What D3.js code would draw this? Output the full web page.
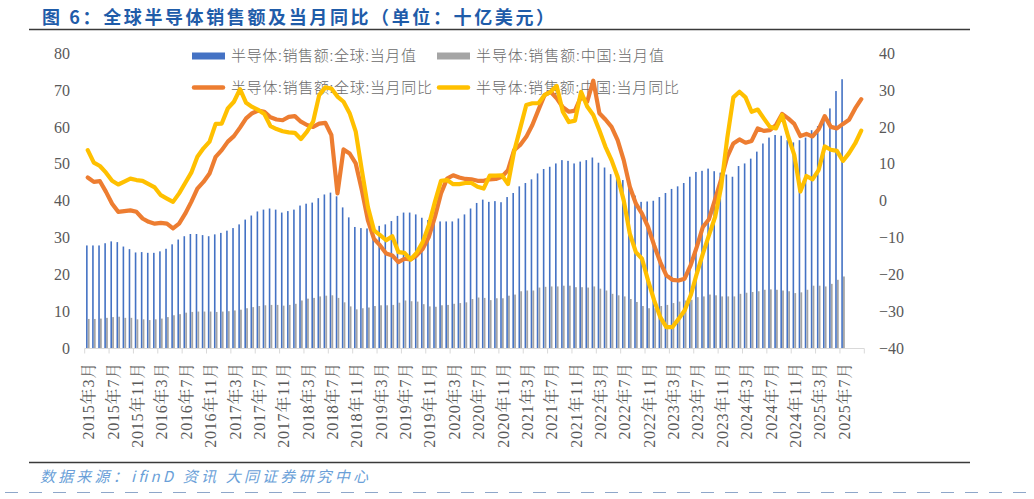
<!DOCTYPE html>
<html>
<head>
<meta charset="utf-8">
<script src="https://cdn.jsdelivr.net/npm/d3@7"></script>
<style>
  html, body { margin: 0; padding: 0; background: #fff; }
  svg { display: block; }
</style>
</head>
<body>
<svg id="chart" width="1034" height="499"></svg>
<script>
(function () {
  "use strict";

  // monthly categories 2015-03 .. 2025-10 (last three have no bars)
  const months = [];
  for (let i = 0; i < 128; i++) {
    const t = 2 + i;
    months.push(`${2015 + Math.floor(t / 12)}年${(t % 12) + 1}月`);
  }
  const labelMonths = months.filter((d, i) => i % 4 === 0);

  const leftTicks = [0, 10, 20, 30, 40, 50, 60, 70, 80];
  const rightTicks = [-40, -30, -20, -10, 0, 10, 20, 30, 40];

  // 半导体:销售额:全球:当月值 (十亿美元)
  const globalSales = [
    27.9, 27.9, 27.9, 28.5, 29.0, 28.8, 27.6, 26.9, 26.0, 26.1,
    25.9, 25.9, 26.3, 27.0, 28.2, 29.5, 30.4, 31.0, 31.0, 30.7,
    30.4, 30.9, 31.3, 31.9, 32.6, 33.6, 34.9, 36.0, 37.1, 37.6,
    37.9, 37.6, 36.8, 37.2, 37.6, 38.7, 39.2, 39.5, 40.7, 41.7,
    42.2, 41.2, 38.2, 35.5, 32.9, 32.6, 32.5, 32.7, 33.2, 33.6,
    34.5, 35.9, 36.8, 36.8, 36.3, 35.4, 34.8, 34.4, 34.4, 34.4,
    34.4, 35.2, 36.3, 37.9, 39.4, 40.3, 39.7, 39.9, 39.6, 41.0,
    42.1, 43.9, 44.8, 45.8, 47.4, 48.6, 49.2, 50.1, 51.0, 50.8,
    50.1, 50.6, 51.0, 51.7, 50.3, 49.0, 47.2, 46.9, 45.6, 43.6,
    41.4, 39.7, 39.8, 40.0, 41.0, 42.1, 43.2, 43.9, 44.8, 46.5,
    47.8, 48.1, 48.7, 48.0, 47.6, 47.1, 46.5, 49.4, 50.1, 51.4,
    53.3, 55.5, 57.1, 57.8, 57.6, 56.4, 55.8, 56.4, 57.1, 59.1,
    60.2, 62.7, 65.0, 69.7, 72.9, null, null, null
  ];

  // 半导体:销售额:中国:当月值
  const chinaSales = [
    8.0, 8.0, 8.1, 8.3, 8.5, 8.6, 8.3, 8.3, 7.9, 7.9,
    7.7, 7.9, 8.1, 8.5, 9.0, 9.3, 9.7, 9.9, 10.0, 10.0,
    10.0, 9.9, 10.0, 10.1, 10.3, 10.5, 10.9, 11.2, 11.5, 11.7,
    11.8, 11.8, 11.6, 11.8, 12.1, 13.0, 13.5, 13.7, 14.1, 14.3,
    14.4, 13.7, 12.5, 11.4, 10.6, 10.9, 11.1, 11.5, 11.7, 11.7,
    11.8, 12.4, 13.0, 12.8, 12.7, 12.0, 11.4, 11.3, 11.7, 11.8,
    12.1, 12.3, 12.5, 13.4, 13.8, 13.7, 13.1, 13.6, 13.6, 14.3,
    14.6, 15.5, 15.7, 15.7, 16.5, 16.7, 16.8, 16.8, 17.0, 17.0,
    16.6, 16.6, 16.5, 16.8, 16.2, 15.7, 14.8, 14.4, 14.1, 13.4,
    12.6, 11.5, 10.9, 10.9, 11.5, 11.8, 12.3, 12.7, 13.0, 13.2,
    13.9, 14.1, 14.6, 14.4, 14.1, 14.1, 14.1, 14.8, 15.1, 15.3,
    15.5, 15.9, 16.0, 15.9, 15.7, 15.5, 15.0, 15.2, 15.9, 17.0,
    17.0, 16.8, 17.5, 18.6, 19.5, null, null, null
  ];

  // 半导体:销售额:全球:当月同比 (%)
  const globalYoY = [
    6.3, 5.1, 5.3, 2.4, -0.8, -3.0, -2.8, -2.6, -3.0, -4.8,
    -5.7, -6.2, -6.0, -6.2, -7.5, -6.2, -3.5, -0.3, 3.3, 5.1,
    7.4, 11.9, 13.7, 16.0, 17.5, 19.8, 22.3, 23.7, 24.4, 24.1,
    22.6, 22.0, 21.8, 22.7, 22.9, 21.4, 20.5, 20.0, 20.9, 21.1,
    17.8, 2.0, 13.9, 12.8, 10.1, 2.9, -5.3, -10.3, -12.1, -14.3,
    -14.8, -16.6, -15.7, -15.9, -14.8, -13.0, -9.8, -4.4, 2.0, 6.0,
    6.9, 6.3, 5.9, 5.8, 5.4, 5.4, 5.8, 5.9, 6.5, 8.3,
    13.7, 15.1, 17.3, 20.5, 24.6, 28.6, 29.5, 27.7, 25.3, 24.1,
    24.4, 28.2, 26.8, 32.5, 23.7, 22.0, 20.0, 16.4, 11.0, 3.8,
    -0.8, -3.5, -7.1, -12.1, -16.6, -20.2, -21.4, -21.6, -21.1, -17.4,
    -12.5, -7.1, -5.0, 0.4, 5.8, 11.9, 15.5, 16.6, 15.7, 16.2,
    19.6, 18.9, 19.1, 20.5, 23.5, 22.3, 20.8, 17.5, 18.1, 17.4,
    19.3, 22.9, 20.0, 19.6, 20.8, 21.9, 25.0, 27.5
  ];

  // 半导体:销售额:中国:当月同比 (%)
  const chinaYoY = [
    13.7, 10.3, 9.4, 7.6, 5.4, 4.4, 5.2, 6.0, 5.6, 5.4,
    4.5, 3.6, 1.5, 0.6, -0.3, 2.0, 4.8, 7.6, 11.9, 14.2,
    16.0, 20.8, 20.9, 25.0, 26.8, 30.2, 26.5, 25.4, 24.6, 23.5,
    20.2, 19.4, 18.8, 18.5, 18.4, 16.7, 18.7, 21.4, 28.6, 30.7,
    30.4, 28.2, 26.8, 23.7, 18.7, 8.3, -1.7, -8.0, -9.3, -10.7,
    -9.6, -13.9, -14.1, -15.9, -14.1, -11.2, -6.6, -0.3, 5.4, 5.6,
    4.5, 4.5, 4.8, 4.8, 3.8, 3.3, 6.8, 6.8, 6.9, 4.5,
    13.3, 19.6, 25.9, 26.4, 26.4, 28.6, 29.5, 31.1, 24.1, 21.3,
    21.7, 29.5, 25.5, 23.2, 19.1, 14.6, 11.0, 6.5, 0.1, -8.9,
    -13.9, -15.7, -21.6, -27.0, -31.5, -34.2, -34.2, -32.0, -29.7, -25.6,
    -19.7, -14.3, -9.3, -4.4, 3.8, 17.0, 28.0, 29.5, 28.0, 24.1,
    24.7, 22.3, 20.0, 19.6, 23.2, 17.4, 12.4, 2.5, 6.7, 5.8,
    8.3, 14.7, 13.8, 13.5, 10.8, 12.9, 15.5, 19.0
  ];

  const seriesNames = [
    "半导体:销售额:全球:当月值",
    "半导体:销售额:中国:当月值",
    "半导体:销售额:全球:当月同比",
    "半导体:销售额:中国:当月同比"
  ];

  const COLORS = { blue: "#4472C4", gray: "#A5A5A5", orange: "#ED7D31", yellow: "#FFC000" };
  const TEXT = "#595959";
  const SERIF = "'Liberation Serif', 'Times New Roman', 'Noto Serif CJK SC', 'Noto Sans CJK SC', serif";
  const CJK = "'Noto Sans CJK SC', sans-serif";

  const svg = d3.select("#chart");

  const x = d3.scaleBand().domain(months).range([84.7, 864.3]).padding(0);
  const bw = x.bandwidth();
  const cx = (m) => x(m) + bw / 2;
  const yL = d3.scaleLinear().domain([0, 80]).range([348.5, 53]);
  const yR = d3.scaleLinear().domain([-40, 40]).range([348.5, 53]);

  // title and rules
  svg.append("text")
    .attr("x", 42).attr("y", 23.5)
    .attr("font-family", CJK).attr("font-size", 18).attr("font-weight", "bold")
    .attr("fill", "#1F5CA9")
    .attr("textLength", 512).attr("lengthAdjust", "spacing")
    .text("图 6：全球半导体销售额及当月同比（单位：十亿美元）");

  svg.append("line").attr("x1", 29).attr("x2", 970).attr("y1", 29.5).attr("y2", 29.5)
    .attr("stroke", "#3a3a3a").attr("stroke-width", 1.3);
  svg.append("line").attr("x1", 29).attr("x2", 970).attr("y1", 462.5).attr("y2", 462.5)
    .attr("stroke", "#3a3a3a").attr("stroke-width", 1.3);

  svg.append("text")
    .attr("x", 40).attr("y", 482)
    .attr("font-family", CJK).attr("font-size", 15).attr("font-style", "italic")
    .attr("fill", "#6A9FD8")
    .attr("textLength", 328).attr("lengthAdjust", "spacing")
    .text("数据来源：ifinD 资讯 大同证券研究中心");

  svg.append("line").attr("x1", 5).attr("x2", 1034).attr("y1", 492.5).attr("y2", 492.5)
    .attr("stroke", "#8EA6C9").attr("stroke-width", 1).attr("stroke-dasharray", "13 11");

  // bars
  const bars = svg.append("g");
  bars.selectAll("rect.global").data(globalSales).join("rect")
    .attr("class", "global")
    .filter((d) => d != null)
    .attr("x", (d, i) => cx(months[i]) - 1.7)
    .attr("width", 1.6)
    .attr("y", (d) => yL(d))
    .attr("height", (d) => yL(0) - yL(d))
    .attr("fill", COLORS.blue);
  bars.selectAll("rect.china").data(chinaSales).join("rect")
    .attr("class", "china")
    .filter((d) => d != null)
    .attr("x", (d, i) => cx(months[i]) + 0.05)
    .attr("width", 1.8)
    .attr("y", (d) => yL(d))
    .attr("height", (d) => yL(0) - yL(d))
    .attr("fill", COLORS.gray);

  // x axis: line, boundary ticks, rotated labels
  const xg = svg.append("g");
  xg.append("line").attr("x1", x.range()[0]).attr("x2", x.range()[1])
    .attr("y1", 348.5).attr("y2", 348.5).attr("stroke", "#D9D9D9").attr("stroke-width", 1);
  const boundaries = labelMonths.map((m) => x(m)).concat([x.range()[1]]);
  xg.selectAll("line.tick").data(boundaries).join("line")
    .attr("class", "tick")
    .attr("x1", (d) => d).attr("x2", (d) => d)
    .attr("y1", 348.5).attr("y2", 353.5)
    .attr("stroke", "#D9D9D9");

  const xAxis = svg.append("g")
    .attr("transform", "translate(0,362)")
    .call(d3.axisBottom(x).tickValues(labelMonths).tickSize(0).tickPadding(0));
  xAxis.select(".domain").remove();
  xAxis.selectAll("text")
    .attr("font-family", SERIF).attr("font-size", 16).attr("fill", TEXT)
    .attr("letter-spacing", 0.8)
    .attr("transform", "rotate(-90)")
    .attr("text-anchor", "end")
    .attr("x", 0).attr("y", 0).attr("dy", "0.35em")
    .attr("dx", 0);
  xAxis.selectAll(".tick").attr("transform", (d) => `translate(${cx(d) + 1},0)`);

  // left axis
  const la = svg.append("g").attr("transform", "translate(70,0)")
    .call(d3.axisLeft(yL).tickValues(leftTicks).tickSize(0).tickPadding(0));
  la.select(".domain").remove();
  la.selectAll("text").attr("font-family", SERIF).attr("font-size", 16).attr("fill", TEXT);

  // right axis
  const ra = svg.append("g").attr("transform", "translate(879,0)")
    .call(d3.axisRight(yR).tickValues(rightTicks).tickSize(0).tickPadding(0)
      .tickFormat((d) => (d < 0 ? "\u2212" + Math.abs(d) : String(d))));
  ra.select(".domain").remove();
  ra.selectAll("text").attr("font-family", SERIF).attr("font-size", 16).attr("fill", TEXT);

  // legend
  const lg = svg.append("g").attr("font-family", CJK).attr("font-size", 15)
    .attr("font-weight", 300).attr("fill", "#6b6b6b");
  const legendItems = [
    { name: seriesNames[0], kind: "rect", color: COLORS.blue, x: 192, y: 56, len: 186 },
    { name: seriesNames[1], kind: "rect", color: COLORS.gray, x: 437, y: 56, len: 189 },
    { name: seriesNames[2], kind: "line", color: COLORS.orange, x: 192, y: 87.5, len: 202 },
    { name: seriesNames[3], kind: "line", color: COLORS.yellow, x: 437, y: 87.5, len: 204 }
  ];
  legendItems.forEach((it) => {
    if (it.kind === "rect") {
      lg.append("rect").attr("x", it.x).attr("y", it.y - 3.5).attr("width", 33).attr("height", 7)
        .attr("fill", it.color);
    } else {
      lg.append("line").attr("x1", it.x + 2).attr("x2", it.x + 31).attr("y1", it.y).attr("y2", it.y)
        .attr("stroke", it.color).attr("stroke-width", 4.5).attr("stroke-linecap", "round");
    }
    lg.append("text").attr("x", it.x + 39).attr("y", it.y).attr("dy", "0.35em")
      .attr("textLength", it.len - 1).attr("lengthAdjust", "spacing")
      .text(it.name);
  });

  // lines
  const line = d3.line()
    .defined((d) => d != null)
    .x((d, i) => cx(months[i]))
    .y((d) => yR(d));

  svg.append("path").datum(globalYoY)
    .attr("d", line).attr("fill", "none")
    .attr("stroke", COLORS.orange).attr("stroke-width", 4.2)
    .attr("stroke-linejoin", "round").attr("stroke-linecap", "round");
  svg.append("path").datum(chinaYoY)
    .attr("d", line).attr("fill", "none")
    .attr("stroke", COLORS.yellow).attr("stroke-width", 4.2)
    .attr("stroke-linejoin", "round").attr("stroke-linecap", "round");
})();
</script>
</body>
</html>
